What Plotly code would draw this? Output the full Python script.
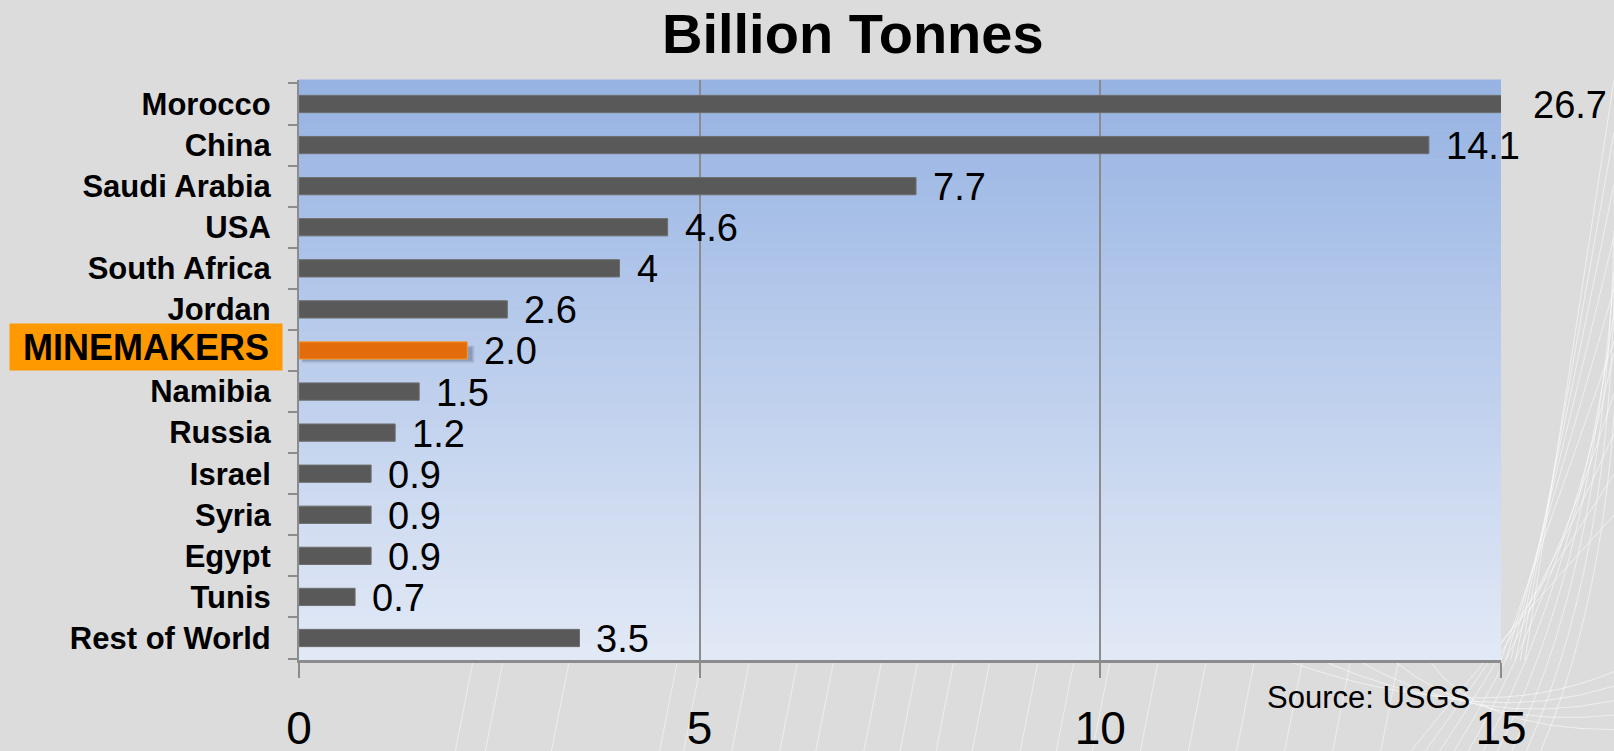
import plotly.graph_objects as go

countries = ["Morocco", "China", "Saudi Arabia", "USA", "South Africa", "Jordan",
             "MINEMAKERS", "Namibia", "Russia", "Israel", "Syria", "Egypt", "Tunis",
             "Rest of World"]
values = [26.7, 14.1, 7.7, 4.6, 4.0, 2.6, 2.1, 1.5, 1.2, 0.9, 0.9, 0.9, 0.7, 3.5]
value_labels = ["26.7", "14.1", "7.7", "4.6", "4", "2.6", "2.0", "1.5", "1.2",
                "0.9", "0.9", "0.9", "0.7", "3.5"]
x_ticks = [0, 5, 10, 15]
highlight = "MINEMAKERS"
x_max = 15

bar_colors = ["#E36C0A" if c == highlight else "#595959" for c in countries]
line_colors = ["#F79B2E" if c == highlight else "#6E6E6E" for c in countries]

fig = go.Figure()
fig.add_trace(go.Bar(
    y=countries, x=values, orientation="h",
    marker=dict(color=bar_colors, line=dict(color=line_colors, width=1)),
    width=0.42, cliponaxis=True, hoverinfo="skip",
))

shapes = []
# faint decorative background curves (behind everything)
W = "rgba(255,255,255,0.55)"
for k in range(10):
    x0 = 0.985 + 0.012 * k
    shapes.append(dict(type="path", xref="paper", yref="paper",
                       path="M %f,-0.157 Q %f,%f 1.094,%f" % (
                           x0 - 0.06, x0 + 0.02, 0.05 + 0.02 * k, 0.25 + 0.07 * k),
                       line=dict(color=W, width=1), layer="below"))
for k in range(6):
    shapes.append(dict(type="path", xref="paper", yref="paper",
                       path="M %f,0.0 L %f,%f" % (1.0 + 0.004 * k, 1.094, 0.55 + 0.09 * k),
                       line=dict(color=W, width=1), layer="below"))
for xb in [0.13, 0.155, 0.21, 0.3, 0.32, 0.36, 0.4, 0.43, 0.47, 0.5, 0.53, 0.56,
           0.6, 0.63, 0.66, 0.7, 0.74, 0.78, 0.82, 0.86, 0.9]:
    shapes.append(dict(type="line", xref="paper", yref="paper",
                       x0=xb, y0=-0.157, x1=xb + 0.015, y1=0,
                       line=dict(color="rgba(255,255,255,0.5)", width=1), layer="below"))
for k in range(5):
    shapes.append(dict(type="path", xref="paper", yref="paper",
                       path="M %f,0 Q %f,-0.12 1.094,%f" % (0.82 + 0.03 * k, 0.98, -0.02 - 0.025 * k),
                       line=dict(color=W, width=1), layer="below"))

# gradient plot background
n = 80
top = (150, 179, 227)
bot = (226, 233, 246)
for i in range(n):
    t = i / (n - 1)
    c = tuple(round(top[k] + (bot[k] - top[k]) * t) for k in range(3))
    shapes.append(dict(type="rect", xref="x domain", yref="y domain",
                       x0=0, x1=1, y0=1 - (i + 1) / n, y1=1 - i / n + 0.001,
                       fillcolor="rgb(%d,%d,%d)" % c, line=dict(width=0),
                       layer="below"))

# soft shadow under the highlighted bar
hi = countries.index(highlight)
for j, a in enumerate([0.10, 0.14, 0.18]):
    shapes.append(dict(type="rect", xref="x", yref="y",
                       x0=0.03 + 0.01 * j, x1=values[hi] + 0.09 - 0.015 * j,
                       y0=hi - 0.12 + 0.02 * j, y1=hi + 0.31 - 0.03 * j,
                       fillcolor="rgba(60,70,100,%.2f)" % a, line=dict(width=0),
                       layer="below"))

annotations = []
for c, v, lab in zip(countries, values, value_labels):
    clipped = v > x_max
    annotations.append(dict(x=min(v, x_max), y=c, xref="x", yref="y",
                            text=lab, showarrow=False, xanchor="left",
                            xshift=30 if clipped else 15, yshift=-1,
                            font=dict(family="Liberation Sans, Arial", size=38, color="#000000")))

annotations.append(dict(x=-0.2413, y=highlight, xref="paper", yref="y", yshift=3,
                        text="<b>MINEMAKERS</b>", showarrow=False, xanchor="left",
                        bgcolor="#FF9900", width=268, height=42, borderpad=2,
                        font=dict(family="Liberation Sans, Arial", size=36, color="#000000")))

annotations.append(dict(x=0.461, y=1, xref="paper", yref="paper", yshift=47,
                        text="<b>Billion Tonnes</b>", showarrow=False,
                        xanchor="center", yanchor="middle",
                        font=dict(family="Liberation Sans, Arial", size=56, color="#000000")))

annotations.append(dict(x=0.976, y=0, xref="paper", yref="paper", yshift=-37,
                        text="Source: USGS", showarrow=False,
                        xanchor="right", yanchor="middle",
                        font=dict(family="Liberation Sans, Arial", size=31, color="#000000")))

ticktext = ["" if c == highlight else "<b>%s</b>" % c for c in countries]

fig.update_layout(
    width=1614, height=751,
    margin=dict(l=299, r=113, t=80, b=91),
    paper_bgcolor="#DCDCDC",
    plot_bgcolor="rgba(0,0,0,0)",
    showlegend=False,
    shapes=shapes,
    annotations=annotations,
    xaxis=dict(range=[0, x_max], tickvals=x_ticks, ticktext=[str(t) for t in x_ticks],
               showgrid=True, gridcolor="#8C8C8C", gridwidth=1.5,
               showline=True, linecolor="#8C8C8C", linewidth=3,
               ticks="outside", ticklen=15, tickwidth=1.5, tickcolor="#8C8C8C",
               ticklabelstandoff=11, zeroline=False, fixedrange=True, automargin=False,
               tickfont=dict(family="Liberation Sans, Arial", size=46, color="#000000")),
    yaxis=dict(categoryorder="array", categoryarray=countries, autorange="reversed",
               tickmode="array", tickvals=countries, ticktext=ticktext,
               tickson="boundaries", ticks="outside", ticklen=9, tickwidth=1.5,
               tickcolor="#8C8C8C", showline=True, linecolor="#8C8C8C", linewidth=2,
               showgrid=False, ticklabelstandoff=20, fixedrange=True, automargin=False,
               tickfont=dict(family="Liberation Sans, Arial", size=31, color="#000000")),
)

fig.write_html("out.html", config={"displayModeBar": False},
               post_script="document.body.style.margin='0px';document.body.style.overflow='hidden';")
